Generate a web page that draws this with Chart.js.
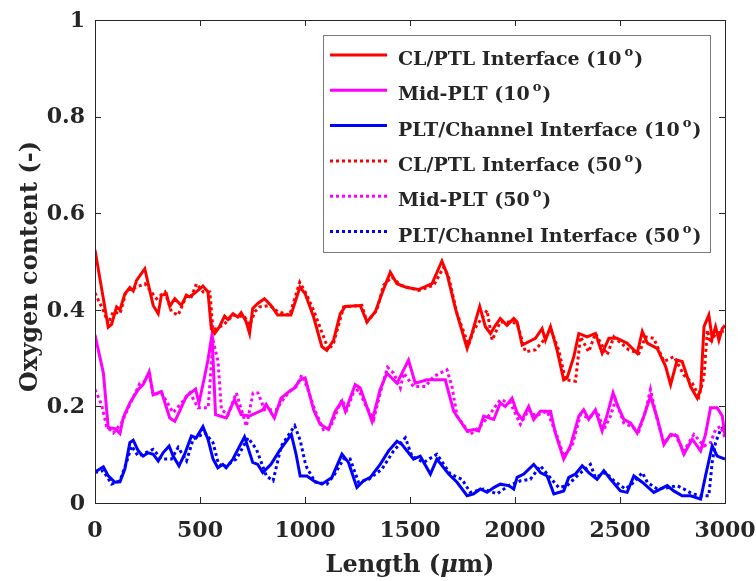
<!DOCTYPE html>
<html lang="en">
<head>
<meta charset="UTF-8">
<script src="https://cdn.jsdelivr.net/npm/chart.js@4.4.1/dist/chart.umd.min.js"></script>
<title>Oxygen content</title>
<style>
  body { margin: 0; background: #fff; }
</style>
</head>
<body>
<canvas id="grafico" width="756" height="581"></canvas>
<script>
// ---- dati (x in micron, y contenuto di ossigeno) ----
const clPtl10X = [0,63,79,103,119,142,166,182,198,237,277,301,316,340,356,380,411,435,451,482,514,538,554,570,593,617,633,657,680,696,720,736,751,775,807,838,870,933,976,1001,1041,1080,1104,1136,1168,1192,1263,1295,1335,1366,1406,1438,1485,1541,1605,1652,1676,1716,1772,1795,1832,1859,1883,1907,1930,1962,1994,2010,2034,2097,2129,2145,2169,2200,2232,2248,2280,2304,2343,2383,2415,2447,2486,2534,2582,2606,2630,2677,2717,2741,2772,2796,2836,2868,2884,2900,2923,2939,2955,2971,2987,3000];
const clPtl10Y = [0.524,0.364,0.37,0.406,0.40,0.433,0.446,0.439,0.461,0.485,0.409,0.392,0.43,0.433,0.407,0.423,0.409,0.43,0.427,0.437,0.449,0.437,0.361,0.351,0.365,0.387,0.38,0.392,0.385,0.394,0.375,0.351,0.403,0.413,0.423,0.409,0.389,0.389,0.447,0.433,0.385,0.324,0.316,0.337,0.392,0.407,0.409,0.375,0.396,0.433,0.478,0.454,0.446,0.442,0.454,0.501,0.475,0.403,0.32,0.351,0.407,0.365,0.351,0.368,0.382,0.368,0.382,0.375,0.327,0.341,0.361,0.337,0.365,0.317,0.255,0.259,0.303,0.351,0.344,0.351,0.31,0.341,0.341,0.331,0.31,0.355,0.331,0.32,0.283,0.245,0.296,0.293,0.241,0.217,0.235,0.365,0.389,0.341,0.365,0.337,0.361,0.368];

const mid10X = [0,40,63,95,119,134,166,206,229,258,277,316,356,380,403,435,479,495,522,538,557,574,625,664,696,736,799,815,854,886,925,949,977,1001,1041,1072,1112,1144,1176,1192,1239,1263,1319,1358,1390,1438,1493,1525,1581,1668,1708,1772,1803,1827,1851,1899,1930,1954,1986,2010,2034,2065,2089,2121,2169,2192,2232,2264,2304,2327,2351,2383,2415,2439,2467,2486,2518,2550,2582,2614,2645,2677,2709,2741,2772,2804,2844,2884,2907,2931,2963,2987,3000];
const mid10Y = [0.348,0.269,0.156,0.154,0.144,0.176,0.207,0.235,0.245,0.272,0.224,0.231,0.176,0.169,0.19,0.221,0.236,0.207,0.262,0.296,0.348,0.183,0.176,0.214,0.183,0.18,0.193,0.204,0.176,0.217,0.231,0.238,0.255,0.259,0.193,0.163,0.152,0.19,0.211,0.19,0.245,0.238,0.169,0.235,0.269,0.248,0.296,0.248,0.255,0.255,0.19,0.149,0.152,0.149,0.18,0.173,0.207,0.2,0.217,0.187,0.173,0.2,0.173,0.19,0.19,0.145,0.091,0.118,0.18,0.193,0.173,0.193,0.149,0.183,0.228,0.204,0.173,0.166,0.145,0.18,0.221,0.176,0.121,0.142,0.139,0.101,0.132,0.108,0.142,0.197,0.197,0.18,0.139];

const canale10X = [0,40,63,95,119,142,166,182,206,229,253,277,301,324,353,372,400,427,459,482,514,538,562,585,609,625,657,712,751,775,799,838,878,935,958,977,1009,1041,1080,1128,1176,1207,1247,1279,1311,1358,1398,1438,1462,1517,1549,1597,1628,1684,1724,1772,1803,1835,1867,1899,1930,1970,1994,2010,2042,2089,2121,2153,2185,2232,2256,2288,2320,2351,2391,2423,2455,2502,2534,2566,2606,2661,2725,2756,2796,2836,2884,2907,2939,2963,3000];
const canale10Y = [0.064,0.075,0.056,0.043,0.044,0.07,0.125,0.13,0.108,0.097,0.104,0.101,0.087,0.104,0.118,0.097,0.077,0.101,0.139,0.135,0.158,0.132,0.091,0.073,0.08,0.073,0.091,0.137,0.084,0.08,0.063,0.08,0.108,0.142,0.1,0.056,0.056,0.046,0.039,0.053,0.101,0.084,0.032,0.046,0.053,0.08,0.108,0.128,0.121,0.091,0.097,0.06,0.091,0.06,0.043,0.015,0.019,0.029,0.022,0.032,0.039,0.036,0.029,0.053,0.06,0.08,0.063,0.056,0.019,0.025,0.053,0.06,0.077,0.063,0.049,0.067,0.049,0.025,0.022,0.056,0.043,0.022,0.036,0.025,0.015,0.015,0.008,0.056,0.118,0.097,0.091];

const clPtl50X = [0,39,63,87,119,150,182,238,293,333,364,396,436,459,483,515,547,562,610,658,713,737,761,784,832,872,927,975,1006,1041,1112,1136,1184,1271,1295,1342,1374,1414,1454,1541,1613,1660,1684,1724,1779,1803,1867,1891,1930,1970,2010,2050,2097,2137,2169,2208,2240,2288,2312,2351,2383,2439,2471,2542,2590,2622,2661,2709,2757,2804,2844,2876,2900,2916,2931,2955,2995];
const clPtl50Y = [0.435,0.399,0.372,0.396,0.392,0.44,0.444,0.454,0.423,0.437,0.396,0.389,0.43,0.427,0.454,0.437,0.437,0.358,0.368,0.389,0.385,0.368,0.396,0.406,0.409,0.396,0.389,0.457,0.433,0.399,0.317,0.331,0.406,0.409,0.375,0.399,0.451,0.468,0.451,0.44,0.451,0.488,0.468,0.392,0.327,0.358,0.399,0.337,0.375,0.375,0.372,0.313,0.317,0.337,0.361,0.317,0.255,0.252,0.344,0.313,0.351,0.307,0.344,0.317,0.31,0.344,0.341,0.293,0.303,0.265,0.248,0.221,0.262,0.358,0.331,0.351,0.355];

const mid50X = [0,31,55,87,127,158,214,238,258,277,317,372,412,452,491,539,562,586,602,634,673,721,753,776,808,864,895,927,959,985,1009,1049,1088,1120,1176,1199,1231,1255,1287,1327,1366,1393,1422,1454,1470,1517,1573,1613,1676,1700,1724,1787,1835,1867,1930,1978,2026,2065,2097,2153,2200,2232,2272,2312,2351,2391,2423,2455,2479,2518,2550,2590,2622,2645,2677,2709,2757,2804,2852,2900,2931,2955,2979,3000];
const mid50Y = [0.235,0.204,0.159,0.145,0.166,0.197,0.248,0.252,0.269,0.224,0.228,0.187,0.207,0.228,0.197,0.197,0.337,0.293,0.193,0.183,0.228,0.159,0.228,0.228,0.193,0.193,0.214,0.231,0.241,0.265,0.241,0.19,0.152,0.156,0.214,0.193,0.228,0.235,0.204,0.173,0.241,0.281,0.269,0.238,0.269,0.241,0.241,0.262,0.276,0.241,0.18,0.142,0.159,0.176,0.214,0.207,0.163,0.193,0.18,0.19,0.139,0.097,0.118,0.183,0.176,0.19,0.152,0.18,0.214,0.166,0.159,0.149,0.19,0.235,0.173,0.125,0.145,0.108,0.142,0.118,0.125,0.152,0.159,0.135];

const canale50X = [0,39,79,119,150,174,206,277,317,364,396,436,467,523,562,586,610,673,729,769,816,848,887,951,977,1000,1009,1049,1104,1136,1184,1215,1255,1303,1366,1422,1478,1509,1565,1628,1692,1748,1787,1851,1915,1970,2026,2073,2121,2161,2208,2248,2296,2359,2383,2431,2471,2526,2566,2606,2630,2677,2733,2772,2804,2844,2892,2923,2939,2955,2979,3000];
const canale50Y = [0.063,0.067,0.039,0.046,0.084,0.118,0.097,0.111,0.091,0.091,0.115,0.087,0.132,0.145,0.125,0.084,0.073,0.091,0.135,0.111,0.056,0.046,0.118,0.16,0.13,0.085,0.073,0.043,0.039,0.056,0.091,0.091,0.043,0.049,0.07,0.108,0.135,0.097,0.084,0.101,0.06,0.049,0.022,0.029,0.019,0.036,0.046,0.049,0.077,0.056,0.032,0.036,0.056,0.08,0.053,0.063,0.046,0.029,0.043,0.063,0.043,0.029,0.032,0.036,0.029,0.019,0.015,0.015,0.084,0.125,0.152,0.159];

const xTicks = [0, 500, 1000, 1500, 2000, 2500, 3000];
const yTicks = [0, 0.2, 0.4, 0.6, 0.8, 1];
const yTickLabels = ['0', '0.2', '0.4', '0.6', '0.8', '1'];

// unisce x e y in punti per Chart.js
function punti(xs, ys) {
    return xs.map(function(x, i) { return {x: x, y: ys[i]}; });
}

const testo = '#262626';
const serif = "'DejaVu Serif', serif";

function serie(nome, angolo, colore, tratteggio, xs, ys) {
    return {
        label: nome + ' (' + angolo + '°)',
        nome: nome,
        angolo: angolo,
        data: punti(xs, ys),
        borderColor: colore,
        backgroundColor: colore,
        borderWidth: 3,
        borderDash: tratteggio,
        borderCapStyle: 'butt',
        pointRadius: 0,
        tension: 0,
        fill: false
    };
}

const dash = [3, 3];
const datasets = [
    serie('CL/PTL Interface', '10', '#ff0000', [], clPtl10X, clPtl10Y),
    serie('Mid-PLT', '10', '#ff00ff', [], mid10X, mid10Y),
    serie('PLT/Channel Interface', '10', '#0000ff', [], canale10X, canale10Y),
    serie('CL/PTL Interface', '50', '#ff0000', dash, clPtl50X, clPtl50Y),
    serie('Mid-PLT', '50', '#ff00ff', dash, mid50X, mid50Y),
    serie('PLT/Channel Interface', '50', '#0000ff', dash, canale50X, canale50Y)
];

// cornice, tacche interne, etichette, legenda e titoli degli assi
const cornice = {
    id: 'cornice',
    afterDraw(chart) {
        const ctx = chart.ctx, a = chart.chartArea;
        const sx = chart.scales.x, sy = chart.scales.y;
        ctx.save();
        ctx.strokeStyle = testo;
        ctx.lineWidth = 1;
        ctx.setLineDash([]);
        ctx.strokeRect(Math.round(a.left) + 0.5, Math.round(a.top) + 0.5,
                       Math.round(a.right - a.left), Math.round(a.bottom - a.top));
        ctx.beginPath();
        xTicks.forEach(function(v) {
            const p = Math.round(sx.getPixelForValue(v)) + 0.5;
            ctx.moveTo(p, a.bottom); ctx.lineTo(p, a.bottom - 6);
            ctx.moveTo(p, a.top); ctx.lineTo(p, a.top + 6);
        });
        yTicks.forEach(function(v) {
            const p = Math.round(sy.getPixelForValue(v)) + 0.5;
            ctx.moveTo(a.left, p); ctx.lineTo(a.left + 6, p);
            ctx.moveTo(a.right, p); ctx.lineTo(a.right - 6, p);
        });
        ctx.stroke();

        // etichette delle tacche
        ctx.fillStyle = testo;
        ctx.font = 'bold 22px ' + serif;
        ctx.textBaseline = 'middle';
        ctx.textAlign = 'center';
        xTicks.forEach(function(v) {
            ctx.fillText(String(v), sx.getPixelForValue(v), a.bottom + 28);
        });
        ctx.textAlign = 'right';
        yTicks.forEach(function(v, i) {
            ctx.fillText(yTickLabels[i], a.left - 10, sy.getPixelForValue(v) + 1);
        });

        // legenda
        const lx = Math.round(a.right) - 402, ly = Math.round(a.top) + 15;
        const lw = 387, lh = 217;
        ctx.fillStyle = '#fff';
        ctx.fillRect(lx, ly, lw, lh);
        ctx.strokeStyle = '#7a7a7a';
        ctx.lineWidth = 1;
        ctx.strokeRect(lx + 0.5, ly + 0.5, lw, lh);
        chart.data.datasets.forEach(function(ds, i) {
            const yc = ly + 20 + i * 35.3;
            ctx.strokeStyle = ds.borderColor;
            ctx.lineWidth = 3;
            ctx.setLineDash(ds.borderDash);
            ctx.beginPath();
            ctx.moveTo(lx + 7, yc); ctx.lineTo(lx + 64, yc);
            ctx.stroke();
            ctx.setLineDash([]);
            ctx.fillStyle = testo;
            ctx.textBaseline = 'alphabetic';
            ctx.textAlign = 'left';
            ctx.font = 'bold 19px ' + serif;
            const base = ds.nome + ' (' + ds.angolo;
            let tx = lx + 75;
            ctx.fillText(base, tx, yc + 10);
            tx += ctx.measureText(base).width + 3;
            ctx.font = 'bold 13px ' + serif;
            ctx.fillText('o', tx, yc + 1);
            tx += ctx.measureText('o').width + 1;
            ctx.font = 'bold 19px ' + serif;
            ctx.fillText(')', tx, yc + 10);
        });

        // titolo asse x con mu in corsivo
        ctx.fillStyle = testo;
        ctx.textBaseline = 'middle';
        const cx = (a.left + a.right) / 2;
        const parti = [['bold 24px ', 'Length ('], ['bold italic 24px ', 'μ'], ['bold 24px ', 'm)']];
        let larg = 0;
        parti.forEach(function(p) { ctx.font = p[0] + serif; larg += ctx.measureText(p[1]).width; });
        let px = cx - larg / 2;
        ctx.textAlign = 'left';
        parti.forEach(function(p) {
            ctx.font = p[0] + serif;
            ctx.fillText(p[1], px, 566);
            px += ctx.measureText(p[1]).width;
        });

        // titolo asse y
        ctx.translate(31, (a.top + a.bottom) / 2 + 5);
        ctx.rotate(-Math.PI / 2);
        ctx.textAlign = 'center';
        ctx.font = 'bold 24px ' + serif;
        ctx.fillText('Oxygen content (-)', 0, 0);
        ctx.restore();
    }
};

const config = {
    type: 'line',
    data: { datasets: datasets },
    options: {
        responsive: false,
        animation: false,
        layout: { padding: { top: 20, right: 31, left: 0, bottom: 0 } },
        plugins: {
            legend: { display: false },
            tooltip: { enabled: false }
        },
        scales: {
            x: {
                type: 'linear',
                min: 0,
                max: 3000,
                afterFit: function(s) { s.height = 78; },
                grid: { display: false },
                border: { display: false },
                ticks: { display: false }
            },
            y: {
                min: 0,
                max: 1,
                afterFit: function(s) { s.width = 95; },
                grid: { display: false },
                border: { display: false },
                ticks: { display: false }
            }
        }
    },
    plugins: [cornice]
};

new Chart('grafico', config);
</script>
</body>
</html>
